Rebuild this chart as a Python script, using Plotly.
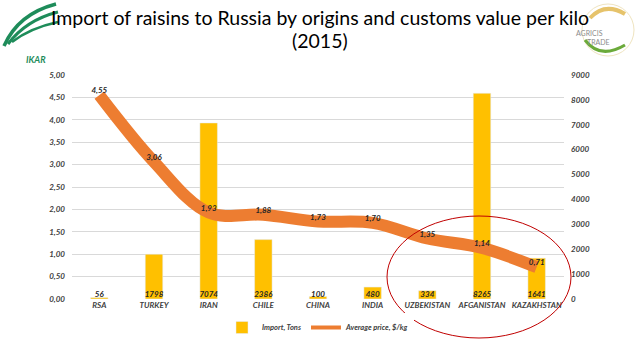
import plotly.graph_objects as go

categories = ["RSA", "TURKEY", "IRAN", "CHILE", "CHINA", "INDIA", "UZBEKISTAN", "AFGANISTAN", "KAZAKHSTAN"]
import_tons = [56, 1798, 7074, 2386, 100, 480, 334, 8265, 1641]
avg_price = [4.55, 3.06, 1.93, 1.88, 1.73, 1.70, 1.35, 1.14, 0.71]
price_labels = ["4,55", "3,06", "1,93", "1,88", "1,73", "1,70", "1,35", "1,14", "0,71"]
left_ticks = [0, 0.5, 1, 1.5, 2, 2.5, 3, 3.5, 4, 4.5, 5]
left_tick_text = ["0,00", "0,50", "1,00", "1,50", "2,00", "2,50", "3,00", "3,50", "4,00", "4,50", "5,00"]
right_ticks = [0, 1000, 2000, 3000, 4000, 5000, 6000, 7000, 8000, 9000]

W, H = 638, 359
L, R, T, B = 72, 74, 75, 60
PW, PH = W - L - R, H - T - B

def px(x):
    return (x - L) / PW

def py(y):
    return (H - B - y) / PH

tick_font = dict(family="Lato", size=8, color="#404040", style="italic", weight="bold")
YELLOW = "#FFC000"
ORANGE = "#ED7D31"

fig = go.Figure()
fig.add_trace(go.Bar(
    x=categories, y=import_tons, name="Import, Tons", marker_color=YELLOW,
    yaxis="y", width=0.32,
))
fig.add_trace(go.Scatter(
    x=categories, y=[0] * len(categories), mode="text", text=[str(v) for v in import_tons],
    textposition="top center", textfont=dict(family="Lato", size=8, color="#262626", style="italic", weight="bold"),
    yaxis="y", showlegend=False, hoverinfo="skip", cliponaxis=False,
))
fig.add_trace(go.Scatter(
    x=categories, y=avg_price, mode="lines", line=dict(color=ORANGE, width=12, shape="spline", smoothing=1),
    yaxis="y2", showlegend=False,
))
fig.add_trace(go.Scatter(
    x=categories, y=avg_price, mode="text", text=price_labels, textposition="top center",
    textfont=dict(family="Lato", size=8, color="#262626", style="italic", weight="bold"),
    yaxis="y2", showlegend=False, hoverinfo="skip", cliponaxis=False,
))
fig.add_trace(go.Scatter(
    x=[None], y=[None], mode="lines", name="Average price, $/kg",
    line=dict(color=ORANGE, width=4), yaxis="y2",
))

shapes = [
    dict(type="circle", xref="paper", yref="paper", x0=px(387), x1=px(571), y0=py(338), y1=py(216),
         line=dict(color="#C00000", width=1), layer="above"),
    dict(type="circle", xref="paper", yref="paper", x0=px(582), x1=px(634), y0=py(56), y1=py(4),
         line=dict(color="#EFE4C0", width=1), fillcolor="rgba(0,0,0,0)"),
    dict(type="path", xref="paper", yref="paper",
         path=f"M {px(585)},{py(40)} Q {px(600)},{py(60)} {px(625)},{py(45)}",
         line=dict(color="#6BAA3A", width=3)),
    dict(type="path", xref="paper", yref="paper",
         path=f"M {px(590)},{py(18)} Q {px(605)},{py(2)} {px(625)},{py(14)}",
         line=dict(color="#E6C36B", width=4)),
]
for (x0, y0, cx, cy, x1, y1, w) in [(4, 46, 18, 14, 56, 4, 3.5), (8, 44, 26, 20, 58, 12, 3), (12, 42, 30, 28, 58, 22, 2.5)]:
    shapes.append(dict(type="path", xref="paper", yref="paper",
                       path=f"M {px(x0)},{py(y0)} Q {px(cx)},{py(cy)} {px(x1)},{py(y1)}",
                       line=dict(color="#1E8C5A", width=w)))

annotations = [
    dict(text="Import of raisins to Russia by origins and customs value per kilo", xref="paper", yref="paper",
         x=px(320), y=py(17), xanchor="center", yanchor="middle", showarrow=False,
         font=dict(family="Lato", size=19.5, color="#000000")),
    dict(text="(2015)", xref="paper", yref="paper",
         x=px(320), y=py(40), xanchor="center", yanchor="middle", showarrow=False,
         font=dict(family="Lato", size=19.5, color="#000000")),
    dict(text="IKAR", xref="paper", yref="paper", x=px(24), y=py(52), showarrow=False,
         font=dict(family="Lato", size=9, color="#1E8C5A", style="italic", weight="bold")),
    dict(text="AGRICIS", xref="paper", yref="paper", x=px(605), y=py(27), showarrow=False,
         font=dict(family="Lato", size=7, color="#8C8C8C")),
    dict(text="TRADE", xref="paper", yref="paper", x=px(612), y=py(36), showarrow=False,
         font=dict(family="Lato", size=7, color="#8C8C8C")),
]

fig.update_layout(
    width=W, height=H,
    margin=dict(l=L, r=R, t=T, b=B, autoexpand=False),
    paper_bgcolor="white", plot_bgcolor="white",
    xaxis=dict(type="category", tickfont=tick_font, showgrid=False, showline=False, ticks="",
               range=[-0.5, len(categories) - 0.5], automargin=False),
    yaxis=dict(side="right", range=[0, 9000], tickvals=right_ticks, ticktext=[str(v) for v in right_ticks],
               tickfont=tick_font, showgrid=False, zeroline=False, showline=False, ticklabelstandoff=6,
               automargin=False),
    yaxis2=dict(side="left", overlaying="y", range=[0, 5], tickvals=left_ticks, ticktext=left_tick_text,
                tickfont=tick_font, showgrid=True, gridcolor="#D9D9D9", gridwidth=1, zeroline=False,
                showline=False, ticklabelstandoff=6, automargin=False),
    legend=dict(orientation="h", x=0.5, xanchor="center", y=py(313), yanchor="top",
                font=dict(family="Lato", size=7.5, color="#404040", style="italic", weight="bold"),
                itemwidth=30, tracegroupgap=0),
    shapes=shapes, annotations=annotations,
    showlegend=True,
)

fig.write_html("out.html", config={"displayModeBar": False},
               post_script="document.body.style.margin='0';document.body.style.padding='0';")
